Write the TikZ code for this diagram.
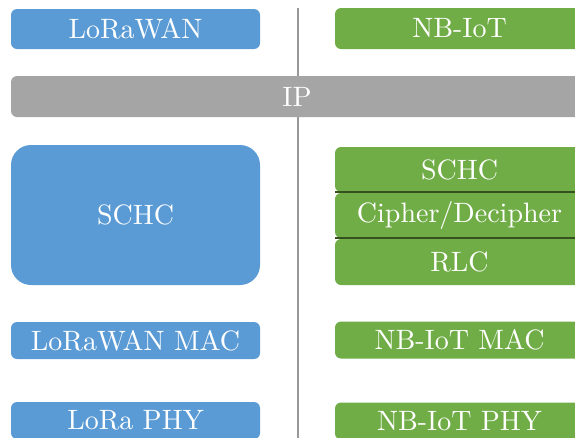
\documentclass[tikz,border=0pt]{standalone}
\usepackage{fontspec}
\setmainfont{lmroman10-regular}[Extension=.otf]
\definecolor{loraBlue}{HTML}{5B9BD5}
\definecolor{nbGreen}{HTML}{70AD47}
\definecolor{ipGray}{HTML}{A5A5A5}
\definecolor{sepGreen}{HTML}{34511F}
\begin{document}
\begin{tikzpicture}[x=1pt, y=-1pt,
	layer/.style={rectangle, rounded corners=6pt, minimum width=249pt, minimum height=40pt, inner sep=0pt, text=white, font=\fontsize{28}{31}\selectfont},
	lora/.style={layer, fill=loraBlue},
	nbiot/.style={layer, fill=nbGreen}]
	\useasboundingbox (0,0) rectangle (575,437);
	\clip (0,0) rectangle (575,437);
	% divider
	\coordinate (divtop) at (298,8);
	\coordinate (divbot) at (298,445);
	\draw [ipGray!92!black, line width=1.8pt] (divtop) -- (divbot);
	% LoRaWAN stack
	\node [lora] (lorawan) at (135.5,29) {LoRaWAN};
	\node [lora, minimum height=140pt, rounded corners=20pt] (schcA) at (135.5,215) {SCHC};
	\node [lora, minimum height=37pt] (lmac) at (135.5,340.5) {LoRaWAN MAC};
	\node [lora, minimum height=37pt] (lphy) at (135.5,420.5) {LoRa PHY};
	% NB-IoT stack
	\node [nbiot, minimum height=41pt] (nbiot) at (459.5,28.5) {NB-IoT};
	\node [nbiot, minimum height=45pt] (schcB) at (459.5,169.5) {SCHC};
	\node [nbiot, minimum height=45pt] (cipher) at (459.5,215.5) {Cipher/Decipher};
	\node [nbiot, minimum height=46pt] (rlc) at (459.5,262) {RLC};
	\node [nbiot, minimum height=37pt] (nmac) at (459.5,340) {NB-IoT MAC};
	\node [nbiot, minimum height=37pt] (nphy) at (459.5,421) {NB-IoT PHY};
	% common IP layer
	\node [layer, fill=ipGray, minimum width=572pt, minimum height=41pt] (ip) at (297,96.5) {IP};
	\draw [sepGreen, line width=1.5pt] (schcB.south west) -- (schcB.south east);
	\draw [sepGreen, line width=1.5pt] (cipher.south west) -- (cipher.south east);
\end{tikzpicture}
\end{document}
